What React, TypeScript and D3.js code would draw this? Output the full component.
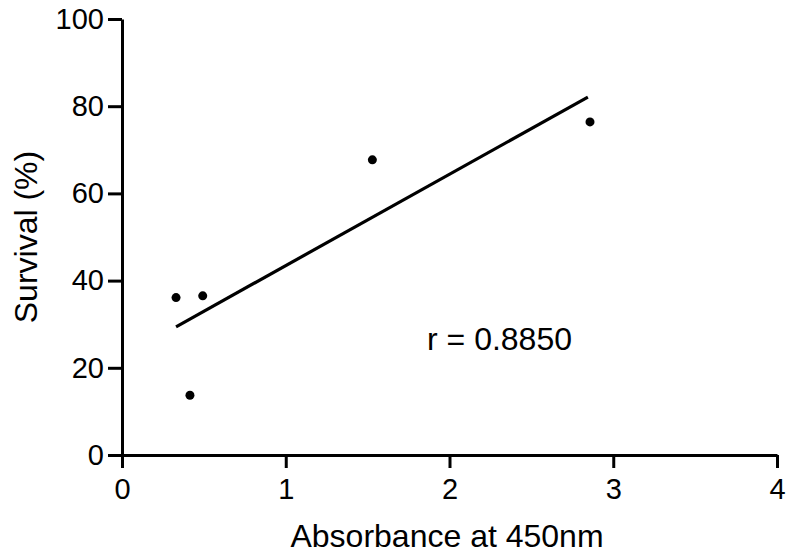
import { useEffect, useRef } from "react";
import * as d3 from "d3";

// measured points
const absorbance = [0.33, 0.415, 0.493, 1.529, 2.858];
const survival = [36.1, 13.7, 36.5, 67.7, 76.4];

// fit line ends, as drawn
const fitX = [0.33, 2.845];
const fitY = [29.4, 82.1];

const xTicks = [0, 1, 2, 3, 4];
const yTicks = [0, 20, 40, 60, 80, 100];
const rLabel = "r = 0.8850";

const W = 791;
const H = 553;
const FONT = "'Liberation Sans', Arial, sans-serif";

const App = () => {
  const svgRef = useRef<SVGSVGElement>(null);

  useEffect(() => {
    const svg = d3.select(svgRef.current);
    svg.selectAll("*").remove();

    const x = d3.scaleLinear().domain([0, 4]).range([122, 777]);
    const y = d3.scaleLinear().domain([0, 100]).range([455, 19]);

    // y axis
    const yAxis = svg
      .append("g")
      .attr("transform", "translate(122,0)")
      .call(
        d3.axisLeft(y).tickValues(yTicks).tickFormat(d3.format("d"))
          .tickSize(14).tickSizeOuter(0).tickPadding(4)
      );

    // x axis
    const xAxis = svg
      .append("g")
      .attr("transform", "translate(0,455)")
      .call(
        d3.axisBottom(x).tickValues(xTicks).tickFormat(d3.format("d"))
          .tickSize(13).tickSizeOuter(0).tickPadding(10)
      );

    [xAxis, yAxis].forEach(ax => {
      ax.select(".domain").attr("stroke", "#000").attr("stroke-width", 3);
      ax.selectAll(".tick line").attr("stroke", "#000").attr("stroke-width", 3);
      ax.selectAll(".tick text")
        .attr("fill", "#000")
        .style("font-family", FONT)
        .style("font-size", "29px");
    });

    // regression line
    const line = d3
      .line<number>()
      .x((d, i) => x(fitX[i]))
      .y(d => y(d));
    svg
      .append("path")
      .datum(fitY)
      .attr("d", line)
      .attr("fill", "none")
      .attr("stroke", "#000")
      .attr("stroke-width", 3.2);

    // points
    svg
      .selectAll(".pt")
      .data(absorbance)
      .enter()
      .append("circle")
      .attr("class", "pt")
      .attr("cx", d => x(d))
      .attr("cy", (d, i) => y(survival[i]))
      .attr("r", 4.5)
      .attr("fill", "#000");

    // annotation
    svg
      .append("text")
      .attr("x", 427)
      .attr("y", 350)
      .style("font-family", FONT)
      .style("font-size", "32px")
      .text(rLabel);

    // axis titles
    svg
      .append("text")
      .attr("x", 447)
      .attr("y", 547)
      .attr("text-anchor", "middle")
      .style("font-family", FONT)
      .style("font-size", "32px")
      .text("Absorbance at 450nm");

    svg
      .append("text")
      .attr("transform", "translate(37,237) rotate(-90)")
      .attr("text-anchor", "middle")
      .style("font-family", FONT)
      .style("font-size", "32px")
      .text("Survival (%)");
  }, []);

  return (
    <div style={{ position: "absolute", left: 0, top: 0, background: "#fff" }}>
      <svg ref={svgRef} width={W} height={H}></svg>
    </div>
  );
};

export default App;
